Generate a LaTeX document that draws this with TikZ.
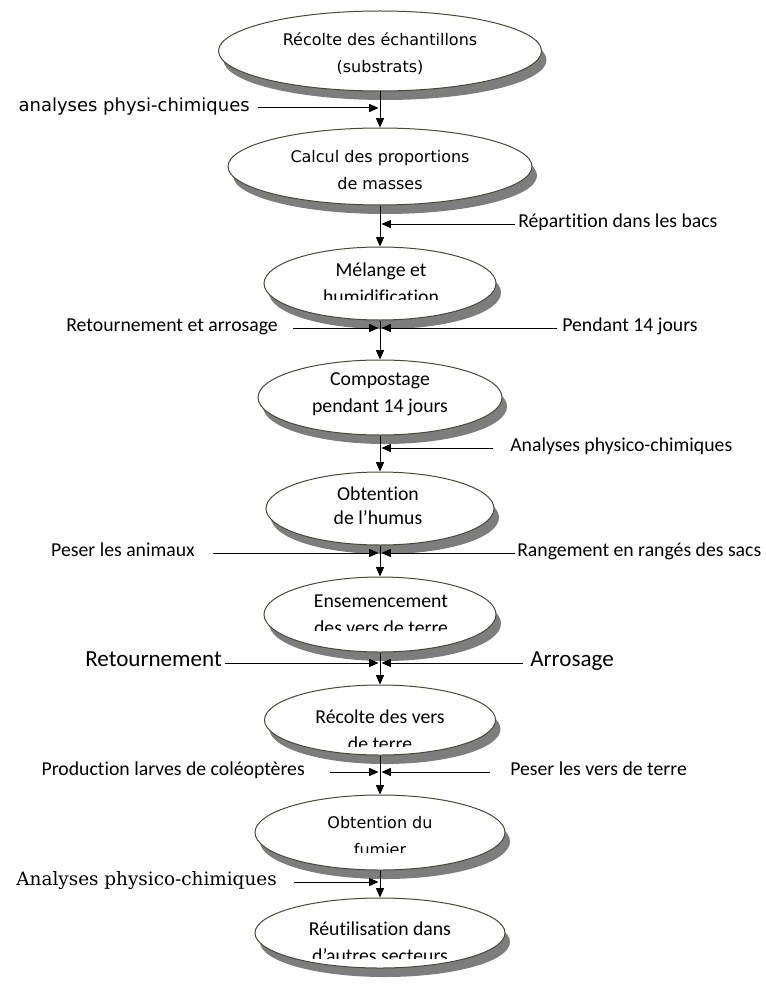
\documentclass[tikz,border=0pt]{standalone}
\usepackage{fontspec}
\setmainfont{Carlito}[Ligatures=NoCommon]
\newfontfamily\widesans{DejaVu Sans}
\newfontfamily\wideserif{DejaVu Serif}
\usetikzlibrary{shapes.geometric,arrows.meta,shadows}
\newlength\pxu
\setlength\pxu{0.75pt}
\definecolor{edgec}{RGB}{75,72,55}
\definecolor{shad}{RGB}{125,125,125}
\begin{document}
\begin{tikzpicture}[x=0.75pt,y=-0.75pt,
  oval/.style={ellipse, draw=edgec, line width=0.75pt, fill=white, inner sep=0pt,
    general shadow={fill=shad, shadow xshift=5\pxu, shadow yshift=-9\pxu}},
  ctext/.style={align=center, inner sep=0pt, font=\fontsize{14.8}{20.25}\selectfont},
  wtext/.style={align=center, inner sep=0pt, font=\widesans\fontsize{12}{20.25}\selectfont},
  lab/.style={inner sep=0pt, text height=0.72em, text depth=0.22em, font=\fontsize{14.8}{18}\selectfont},
  arr/.style={-{Triangle[length=7pt,width=6pt]}, line width=0.75pt, black}
]
\useasboundingbox (0,0) rectangle (765,988);

% ellipses
\node[oval, minimum width=323\pxu, minimum height=80\pxu] (e1) at (380,51) {};
\node[oval, minimum width=304\pxu, minimum height=77\pxu] (e2) at (380,166.5) {};
\node[oval, minimum width=232\pxu, minimum height=73\pxu] (e3) at (380,283.5) {};
\node[oval, minimum width=244\pxu, minimum height=75\pxu] (e4) at (380,397.5) {};
\node[oval, minimum width=228\pxu, minimum height=73\pxu] (e5) at (380,508.5) {};
\node[oval, minimum width=232\pxu, minimum height=75\pxu] (e6) at (380,614.5) {};
\node[oval, minimum width=231\pxu, minimum height=70\pxu] (e7) at (380,720) {};
\node[oval, minimum width=250\pxu, minimum height=75\pxu] (e8) at (380,832.5) {};
\node[oval, minimum width=250\pxu, minimum height=70\pxu] (e9) at (380,933) {};

% texts in ellipses
\node[wtext] (t1) at (380,53.5) {Récolte des échantillons\\(substrats)};
\node[wtext] (t2) at (380,170.5) {Calcul des proportions\\de masses};
\begin{scope}
  \clip (250,240) rectangle (510,299);
  \node[ctext] (t3) at (381,283.5) {Mélange et\\humidification};
\end{scope}
\node[ctext] (t4) at (380,394.5) {Compostage\\pendant 14 jours};
\node[ctext, font=\fontsize{14.8}{18}\selectfont] (t5) at (378,506) {Obtention\\de l’humus};
\begin{scope}
  \clip (250,570) rectangle (510,630);
  \node[ctext] (t6) at (381,614.5) {Ensemencement\\des vers de terre};
\end{scope}
\begin{scope}
  \clip (250,680) rectangle (510,746);
  \node[ctext] (t7) at (380,730.5) {Récolte des vers\\de terre};
\end{scope}
\begin{scope}
  \clip (250,790) rectangle (510,852);
  \node[wtext] (t8) at (380,836.5) {Obtention du\\fumier};
\end{scope}
\begin{scope}
  \clip (250,895) rectangle (510,958);
  \node[ctext] (t9) at (380,942.5) {Réutilisation dans\\d’autres secteurs};
\end{scope}

% side labels
\node[lab, anchor=east, font=\widesans\fontsize{13.5}{16}\selectfont] (l1) at (250,108) {analyses physi-chimiques};
\node[lab, anchor=west] (r2) at (518,224) {Répartition dans les bacs};
\node[lab, anchor=east] (l3) at (278,328) {Retournement et arrosage};
\node[lab, anchor=west] (r3) at (562,328) {Pendant 14 jours};
\node[lab, anchor=west] (r4) at (510,448) {Analyses physico-chimiques};
\node[lab, anchor=east] (l5) at (195,553) {Peser les animaux};
\node[lab, anchor=west] (r5) at (517,553) {Rangement en rangés des sacs};
\node[lab, anchor=east, font=\fontsize{17.3}{20}\selectfont] (l6) at (222,663) {Retournement};
\node[lab, anchor=west, font=\fontsize{17.3}{20}\selectfont] (r6) at (530,663) {Arrosage};
\node[lab, anchor=east] (l7) at (305,772) {Production larves de coléoptères};
\node[lab, anchor=west] (r7) at (510,772) {Peser les vers de terre};
\node[lab, anchor=east, font=\wideserif\fontsize{13.8}{16}\selectfont] (l8) at (277,882) {Analyses physico-chimiques};

% junction points on the main line
\coordinate (j1l) at (378.5,108);
\coordinate (j2r) at (381.5,224);
\coordinate (j3l) at (378.5,328);
\coordinate (j3r) at (381.5,328);
\coordinate (j4r) at (381.5,448);
\coordinate (j5l) at (378.5,553);
\coordinate (j5r) at (381.5,553);
\coordinate (j6l) at (378.5,663);
\coordinate (j6r) at (381.5,663);
\coordinate (j7l) at (378.5,772);
\coordinate (j7r) at (381.5,772);
\coordinate (j8l) at (378.5,882);

% main vertical arrows
\draw[arr] (e1.south) -- (e2.north);
\draw[arr] (e2.south) -- (e3.north);
\draw[arr] (e3.south) -- (e4.north);
\draw[arr] (e4.south) -- (e5.north);
\draw[arr] (e5.south) -- (e6.north);
\draw[arr] (e6.south) -- (e7.north);
\draw[arr] (e7.south) -- (e8.north);
\draw[arr] (e8.south) -- (e9.north);

% side arrows
\draw[arr] ([xshift=8\pxu]l1.east) -- (j1l);
\draw[arr] ([xshift=-3\pxu]r2.west) -- (j2r);
\draw[arr] ([xshift=15\pxu]l3.east) -- (j3l);
\draw[arr] ([xshift=-5\pxu]r3.west) -- (j3r);
\draw[arr] ([xshift=-17\pxu]r4.west) -- (j4r);
\draw[arr] ([xshift=18\pxu]l5.east) -- (j5l);
\draw[arr] ([xshift=-2\pxu]r5.west) -- (j5r);
\draw[arr] ([xshift=3\pxu]l6.east) -- (j6l);
\draw[arr] ([xshift=-7\pxu]r6.west) -- (j6r);
\draw[arr] ([xshift=25\pxu]l7.east) -- (j7l);
\draw[arr] ([xshift=-20\pxu]r7.west) -- (j7r);
\draw[arr] ([xshift=17\pxu]l8.east) -- (j8l);
\end{tikzpicture}
\end{document}
